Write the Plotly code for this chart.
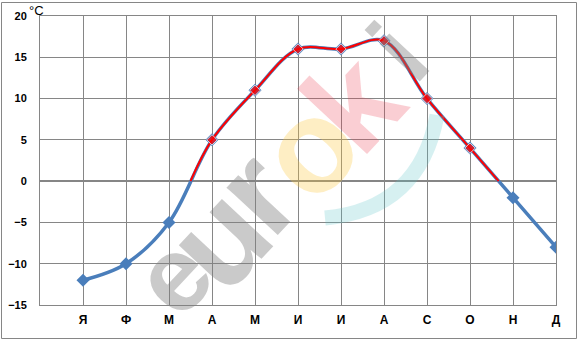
import plotly.graph_objects as go

months = ["Я", "Ф", "М", "А", "М", "И", "И", "А", "С", "О", "Н", "Д"]
temps = [-12, -10, -5, 5, 11, 16, 16, 17, 10, 4, -2, -8]
y_ticks = [-15, -10, -5, 0, 5, 10, 15, 20]

x = list(range(len(months)))


def crossing(i0, i1):
    y0, y1 = temps[i0], temps[i1]
    return i0 + (0 - y0) / (y1 - y0) * (i1 - i0)


pos_idx = [i for i, t in enumerate(temps) if t > 0]
first, last = pos_idx[0], pos_idx[-1]
rx = [crossing(first - 1, first)] + pos_idx + [crossing(last, last + 1)]
ry = [0] + [temps[i] for i in pos_idx] + [0]
rsize = [0] + [8] * len(pos_idx) + [0]

W, H = 580, 341
ML, MR, MT, MB = 40, 24, 16, 36
PW, PH = W - ML - MR, H - MT - MB


def px(xp):
    return (xp - ML) / PW


def py(yp):
    return (H - MB - yp) / PH


fig = go.Figure()
fig.add_trace(go.Scatter(
    x=x, y=temps, mode="lines+markers",
    line=dict(color="#4a7ebb", width=3.5, shape="spline", smoothing=1),
    marker=dict(symbol="diamond", size=10, color="#4a7ebb"),
    showlegend=False, hoverinfo="skip"))
fig.add_trace(go.Scatter(
    x=rx, y=ry, mode="lines+markers",
    line=dict(color="#ff0000", width=2, shape="spline", smoothing=1),
    marker=dict(symbol="diamond", size=rsize, color="#ff0000"),
    showlegend=False, hoverinfo="skip"))

annotations = [dict(text="°C", xref="paper", yref="paper", x=px(27), y=py(11),
                    xanchor="left", yanchor="middle", showarrow=False,
                    font=dict(family="Arial", size=13, color="#000000"))]

# watermark "euroki" (decorative)
gray = "rgba(128,128,128,0.42)"
wm = [("e", 172, 276, gray, 106),
      ("u", 218, 238, gray, 132),
      ("r", 255, 192, gray, 132),
      ("o", 308, 149, "rgba(253,200,60,0.3)", 132),
      ("k", 353, 103, "rgba(235,60,80,0.25)", 132),
      ("i", 398, 52, gray, 104)]
for ch, cx, cy, col, fs in wm:
    annotations.append(dict(text=ch, xref="paper", yref="paper", x=px(cx), y=py(cy),
                            xanchor="center", yanchor="middle", showarrow=False,
                            textangle=-47,
                            font=dict(family="Arial", size=fs, color=col, weight="bold")))

shapes = [
    dict(type="rect", xref="paper", yref="paper", x0=px(1.5), x1=px(576.5),
         y0=py(338.5), y1=py(2.5), line=dict(color="#868686", width=1)),
    dict(type="path", xref="paper", yref="paper",
         path=f"M {px(437)},{py(115)} Q {px(420)},{py(209)} {px(325)},{py(218)}",
         line=dict(color="rgba(90,195,200,0.25)", width=15)),
]

fig.update_layout(
    width=W, height=H,
    margin=dict(l=ML, r=MR, t=MT, b=MB, autoexpand=False),
    paper_bgcolor="white", plot_bgcolor="white",
    annotations=annotations, shapes=shapes,
    xaxis=dict(range=[-1, 11], tickvals=[-1] + x, ticktext=[""] + months,
               automargin=False,
               showgrid=True, gridcolor="#868686", gridwidth=1,
               zeroline=False, showline=True, mirror=True,
               linecolor="#868686", linewidth=1, ticks="",
               ticklabelstandoff=4,
               tickfont=dict(family="Arial", size=12, color="#000000", weight="bold")),
    yaxis=dict(range=[-15, 20], tickvals=y_ticks,
               automargin=False,
               showgrid=True, gridcolor="#868686", gridwidth=1,
               zeroline=True, zerolinecolor="#868686", zerolinewidth=2,
               showline=True, mirror=True, linecolor="#868686", linewidth=1,
               ticks="", ticklabelstandoff=10,
               tickfont=dict(family="Arial", size=11, color="#000000", weight="bold")),
)

fig.write_html("out.html")
